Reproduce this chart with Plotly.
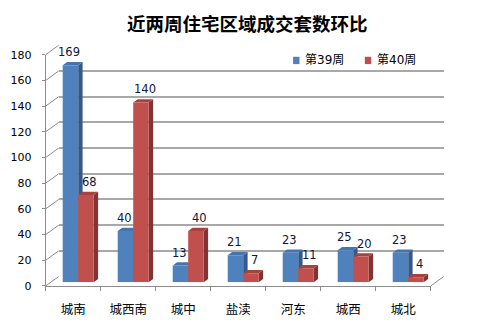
import plotly.graph_objects as go

# ---- data ----
categories = ["城南", "城西南", "城中", "盐渎", "河东", "城西", "城北"]
week39 = [169, 40, 13, 21, 23, 25, 23]
week40 = [68, 140, 40, 7, 11, 20, 4]
series_names = ["第39周", "第40周"]
y_ticks = list(range(0, 181, 20))

# ---- pixel geometry of the pseudo-3D frame ----
W, H = 494, 328
FRONT_X0, FRONT_X1 = 45.7, 430.7
FRONT_Y0, FRONT_Y1 = 291.5, 50.7          # pixel y of value 0 / 180
BAR_SHIFT = (5.0, -3.8)                   # bar plane offset from front plane
BACK_SHIFT = (13.0, -9.8)                 # back wall offset from front plane
Y_MAX = 180.0
PX_PER_UNIT = (FRONT_Y0 - FRONT_Y1) / Y_MAX
CAT_PX = (FRONT_X1 - FRONT_X0) / len(categories)
PAD = 0.6                                 # keeps edge gridlines inside the range

BLUE = dict(front="#4F81BD", top="#4674AE", side="#37598A")
RED = dict(front="#C0504D", top="#A8423F", side="#813431")
FRAME = "#8C8C8C"
GRID = "#A8A8A8"


def px(x):
    return x / W


def py(y):
    return 1 - y / H


def front_y(v):
    return FRONT_Y0 - v * PX_PER_UNIT


x_idx = list(range(len(categories)))
bar_w = 15.5 / CAT_PX                     # width of one bar in category units
dx_u = 4.4 / CAT_PX                       # depth of side face
dy_u = 3.4 / PX_PER_UNIT                  # depth of top face

fig = go.Figure()

# placeholders so the wall and front-axis subplots are created
fig.add_trace(go.Scatter(x=[None], y=[None], xaxis="x", yaxis="y",
                         showlegend=False, hoverinfo="skip"))
fig.add_trace(go.Scatter(x=[None], y=[None], xaxis="x2", yaxis="y2",
                         showlegend=False, hoverinfo="skip"))

for name, vals, col, off in [(series_names[0], week39, BLUE, -bar_w),
                             (series_names[1], week40, RED, 0.0)]:
    fig.add_trace(go.Bar(
        x=x_idx, y=vals, name=name, offset=off, width=bar_w,
        xaxis="x3", yaxis="y3",
        marker=dict(color=col["front"], line=dict(width=0)),
        showlegend=False, hoverinfo="skip",
    ))

shapes = []

# diagonal ticks from the front axis to the back wall
for v in y_ticks:
    yb = front_y(v) + BACK_SHIFT[1]
    shapes.append(dict(type="line", xref="paper", yref="paper", layer="below",
                       x0=px(FRONT_X0), x1=px(FRONT_X0 + BACK_SHIFT[0]),
                       y0=py(front_y(v)), y1=py(yb), line=dict(color=FRAME, width=1)))
# right edge of the floor
shapes.append(dict(type="line", xref="paper", yref="paper", layer="below",
                   x0=px(FRONT_X1), x1=px(FRONT_X1 + BACK_SHIFT[0]),
                   y0=py(FRONT_Y0), y1=py(FRONT_Y0 + BACK_SHIFT[1]),
                   line=dict(color=FRAME, width=1)))

# side and top faces of each bar
for vals, col, off in [(week39, BLUE, -bar_w), (week40, RED, 0.0)]:
    for i, v in zip(x_idx, vals):
        xl = i + off
        xr = xl + bar_w
        side = (f"M {xr},0 L {xr},{v} L {xr + dx_u},{v + dy_u} "
                f"L {xr + dx_u},{dy_u} Z")
        top = (f"M {xl},{v} L {xl + dx_u},{v + dy_u} L {xr + dx_u},{v + dy_u} "
               f"L {xr},{v} Z")
        shapes.append(dict(type="path", xref="x3", yref="y3", layer="below",
                           path=side, fillcolor=col["side"], line=dict(width=0)))
        shapes.append(dict(type="path", xref="x3", yref="y3", layer="below",
                           path=top, fillcolor=col["top"], line=dict(width=0)))

# legend swatches
legend_y = 56.7
for sx, col in [(296.3, BLUE), (368.0, RED)]:
    shapes.append(dict(type="rect", xref="paper", yref="paper",
                       x0=px(sx - 3.2), x1=px(sx + 3.2),
                       y0=py(legend_y + 3.8), y1=py(legend_y - 3.8),
                       fillcolor=col["front"], line=dict(width=0)))

annotations = []
label_font = dict(family="DejaVu Sans", size=11.5, color="#14143C")
for vals, off, xs in [(week39, -bar_w, -1), (week40, 0.0, 4)]:
    for i, v in zip(x_idx, vals):
        annotations.append(dict(x=i + off + bar_w / 2, y=v, xref="x3", yref="y3",
                                text=str(v), showarrow=False, yanchor="bottom",
                                xshift=xs, yshift=4, font=label_font))

for tx, name in [(303.0, series_names[0]), (375.0, series_names[1])]:
    annotations.append(dict(x=px(tx), y=py(legend_y), xref="paper", yref="paper",
                            text=name, showarrow=False, xanchor="left",
                            yanchor="middle",
                            font=dict(family="DejaVu Sans, Noto Sans CJK SC",
                                      size=12, color="#000000")))

annotations.append(dict(x=0.5, y=py(17.5), xref="paper", yref="paper",
                        text="<b>近两周住宅区域成交套数环比</b>", showarrow=False,
                        xanchor="center", yanchor="middle",
                        font=dict(family="Noto Sans CJK SC", size=18.5, color="#000000")))

pad_px = PAD * PX_PER_UNIT
fig.update_layout(
    width=W, height=H,
    margin=dict(l=0, r=0, t=0, b=0),
    paper_bgcolor="#FFFFFF",
    plot_bgcolor="rgba(0,0,0,0)",
    showlegend=False,
    shapes=shapes,
    annotations=annotations,
    # back wall with its gridlines
    xaxis=dict(
        domain=[px(FRONT_X0 + BACK_SHIFT[0]), px(FRONT_X1 + BACK_SHIFT[0])],
        range=[0, 1], visible=False, showgrid=False, zeroline=False,
        anchor="y", fixedrange=True,
    ),
    yaxis=dict(
        domain=[py(FRONT_Y0 + BACK_SHIFT[1] + pad_px),
                py(FRONT_Y1 + BACK_SHIFT[1] - pad_px)],
        range=[-PAD, Y_MAX + PAD], tickmode="array", tickvals=y_ticks,
        showticklabels=False, ticks="", showline=False, showgrid=True,
        gridcolor=GRID, gridwidth=1.6, zeroline=False, anchor="x",
        fixedrange=True,
    ),
    # front axes: value labels on the left, category boundaries on the floor edge
    xaxis2=dict(
        domain=[px(FRONT_X0), px(FRONT_X1)], range=[0, len(categories)],
        tickmode="array", tickvals=list(range(len(categories) + 1)),
        ticks="outside", ticklen=4, tickcolor=FRAME, showticklabels=False,
        showline=True, linecolor=FRAME, linewidth=1, showgrid=False,
        zeroline=False, anchor="y2", fixedrange=True,
    ),
    yaxis2=dict(
        domain=[py(FRONT_Y0), py(FRONT_Y1)], range=[0, Y_MAX],
        tickmode="array", tickvals=y_ticks, ticks="outside", ticklen=3,
        tickcolor=FRAME, showline=True, linecolor=FRAME, linewidth=1,
        showgrid=False, zeroline=False, ticklabelstandoff=8,
        tickfont=dict(family="DejaVu Sans", size=11, color="#000000"),
        anchor="x2", fixedrange=True,
    ),
    # bar plane
    xaxis3=dict(
        domain=[px(FRONT_X0 + BAR_SHIFT[0]), px(FRONT_X1 + BAR_SHIFT[0])],
        range=[-0.5, len(categories) - 0.5], tickmode="array",
        tickvals=x_idx, ticktext=categories, ticks="", showline=False,
        showgrid=False, zeroline=False, ticklabelshift=-5, ticklabelstandoff=18,
        tickfont=dict(family="Noto Sans CJK SC", size=12.5, color="#000000"),
        anchor="y3", fixedrange=True,
    ),
    yaxis3=dict(
        domain=[py(FRONT_Y0 + BAR_SHIFT[1]), py(FRONT_Y1 + BAR_SHIFT[1])],
        range=[0, Y_MAX], visible=False, showgrid=False, zeroline=False,
        anchor="x3", fixedrange=True,
    ),
)

fig.write_html("out.html")
